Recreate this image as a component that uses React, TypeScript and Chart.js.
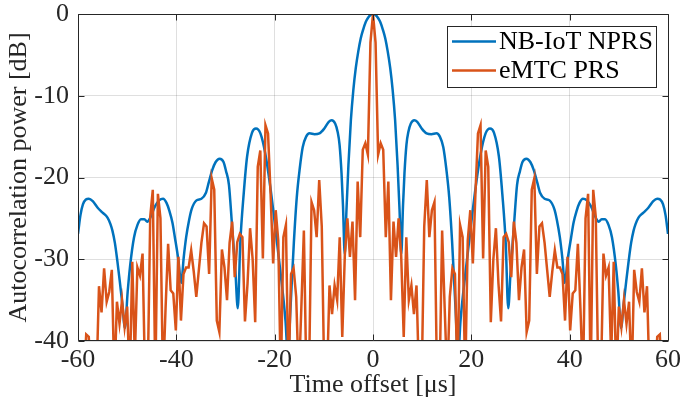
import React, { useEffect, useRef } from 'react';
import { Chart, registerables } from 'chart.js';

Chart.register(...registerables);

const SERIES_NAMES = ['NB-IoT NPRS', 'eMTC PRS'];
const SERIES_COLORS = ['#0072BD', '#D95319'];
const X_TITLE = 'Time offset [μs]';
const Y_TITLE = 'Autocorrelation power [dB]';
const X_TICKS = [-60, -40, -20, 0, 20, 40, 60];
const Y_TICKS = [-40, -30, -20, -10, 0];

// NB-IoT NPRS autocorrelation (dB)
const nbIotX = [
  -60, -59.5, -59, -58.4, -57.8, -57, -56, -55, -54, -53.4, -53, -52.5, -52, -51.5, -51, -50.45, -49.9, -49.4, -48.6, -47.9,
  -47.2, -46.5, -45.9, -45.2, -44.4, -43.5, -42.7, -42, -41.4, -40.8, -40.3, -39.6, -39, -38.5, -38, -37.4, -36.9, -35.9, -34.9, -34,
  -33.4, -32.7, -32, -31.2, -30.4, -29.9, -29.3, -28.7, -28, -27.5, -27, -26.3, -25.6, -24.6, -23.8, -22.9, -21.9, -20.9, -19.9, -18.8,
  -17.8, -17.3, -16.8, -16.1, -15.5, -14.9, -14.3, -13.6, -12.9, -11.9, -10.9, -9.9, -9, -8.4, -7.7, -7.2, -6.8, -6.4, -6.1, -5.75,
  -5.4, -5, -4.5, -4, -3.5, -3, -2.5, -2, -1.5, -1, -0.5, 0,
  0.5, 1, 1.5, 2, 2.5, 3, 3.5, 4, 4.5, 5, 5.4, 5.75, 6.1, 6.4, 6.8, 7.2, 7.7, 8.4, 9, 9.9,
  10.9, 11.9, 12.9, 13.6, 14.3, 14.9, 15.5, 16.1, 16.8, 17.3, 17.8, 18.8, 19.9, 20.9, 21.9, 22.9, 23.8, 24.6, 25.6, 26.3,
  27, 27.5, 28, 28.7, 29.3, 29.9, 30.4, 31.2, 32, 32.7, 33.4, 34, 34.9, 35.9, 36.9, 37.4, 38, 38.5, 39, 39.6,
  40.3, 40.8, 41.4, 42, 42.7, 43.5, 44.4, 45.2, 45.9, 46.5, 47.2, 47.9, 48.6, 49.4, 49.9, 50.45, 51, 51.5, 52, 52.5,
  53, 53.4, 54, 55, 56, 57, 57.8, 58.4, 59, 59.5, 60,
];
const nbIotY = [
  -26.9, -24.6, -23.3, -22.7, -22.6, -22.9, -23.7, -24.3, -24.9, -25.7, -26.5, -28.0, -30.2, -32.7, -35.4, -38.4, -34.0, -30.8, -27.3, -25.8,
  -25.1, -25.1, -25.4, -24.8, -23.6, -22.8, -22.6, -23.1, -24.1, -25.5, -27.3, -30.0, -32.9, -29.8, -27.3, -25.2, -23.9, -22.8, -22.6, -21.9,
  -20.6, -19.1, -18.1, -17.7, -18.1, -19.2, -20.9, -25.6, -31.3, -36.0, -28.1, -22.0, -17.4, -14.5, -14.0, -14.6, -17.1, -21.1, -26.0, -31.7,
  -37.5, -42.0, -36.2, -28.0, -22.4, -18.9, -16.3, -15.0, -14.6, -14.7, -14.6, -14.0, -13.2, -13.0, -13.4, -14.4, -16.0, -19.5, -23.5, -29.4,
  -24.0, -18.5, -13.0, -9.3, -6.6, -4.6, -3.0, -1.9, -1.0, -0.45, -0.12, 0,
  -0.12, -0.45, -1.0, -1.9, -3.0, -4.6, -6.6, -9.3, -13.0, -18.5, -24.0, -29.4, -23.5, -19.5, -16.0, -14.4, -13.4, -13.0, -13.2, -14.0,
  -14.6, -14.7, -14.6, -15.0, -16.3, -18.9, -22.4, -28.0, -36.2, -42.0, -37.5, -31.7, -26.0, -21.1, -17.1, -14.6, -14.0, -14.5, -17.4, -22.0,
  -28.1, -36.0, -31.3, -25.6, -20.9, -19.2, -18.1, -17.7, -18.1, -19.1, -20.6, -21.9, -22.6, -22.8, -23.9, -25.2, -27.3, -29.8, -32.9, -30.0,
  -27.3, -25.5, -24.1, -23.1, -22.6, -22.8, -23.6, -24.8, -25.4, -25.1, -25.1, -25.8, -27.3, -30.8, -34.0, -38.4, -35.4, -32.7, -30.2, -28.0,
  -26.5, -25.7, -24.9, -24.3, -23.7, -22.9, -22.6, -22.7, -23.3, -24.6, -26.9,
];

// eMTC PRS autocorrelation (dB) sample times and values
const emtcX = [
  -59.90, -59.37, -58.85, -58.33, -57.81, -57.29, -56.77, -56.25, -55.73, -55.21, -54.69, -54.17, -53.65, -53.12, -52.60, -52.08, -51.56, -51.04, -50.52, -50.00,
  -49.48, -48.96, -48.44, -47.92, -47.40, -46.87, -46.35, -45.83, -45.31, -44.79, -44.27, -43.75, -43.23, -42.71, -42.19, -41.67, -41.15, -40.62, -40.10, -39.58,
  -39.06, -38.54, -38.02, -37.50, -36.98, -36.46, -35.94, -35.42, -34.90, -34.37, -33.85, -33.33, -32.81, -32.29, -31.77, -31.25, -30.73, -30.21, -29.69, -29.17,
  -28.65, -28.12, -27.60, -27.08, -26.56, -26.04, -25.52, -25.00, -24.48, -23.96, -23.44, -22.92, -22.40, -21.87, -21.35, -20.83, -20.31, -19.79, -19.27, -18.75,
  -18.23, -17.71, -17.19, -16.67, -16.15, -15.62, -15.10, -14.58, -14.06, -13.54, -13.02, -12.50, -11.98, -11.46, -10.94, -10.42, -9.90, -9.37, -8.85, -8.33,
  -7.81, -7.29, -6.77, -6.25, -5.73, -5.21, -4.69, -4.17, -3.65, -3.12, -2.60, -2.08, -1.56, -1.04, -0.52,
  0,
  0.52, 1.04, 1.56, 2.08, 2.60, 3.12, 3.65, 4.17, 4.69, 5.21, 5.73, 6.25, 6.77, 7.29, 7.81, 8.33, 8.85, 9.37, 9.90, 10.42,
  10.94, 11.46, 11.98, 12.50, 13.02, 13.54, 14.06, 14.58, 15.10, 15.62, 16.15, 16.67, 17.19, 17.71, 18.23, 18.75, 19.27, 19.79, 20.31, 20.83,
  21.35, 21.87, 22.40, 22.92, 23.44, 23.96, 24.48, 25.00, 25.52, 26.04, 26.56, 27.08, 27.60, 28.12, 28.65, 29.17, 29.69, 30.21, 30.73, 31.25,
  31.77, 32.29, 32.81, 33.33, 33.85, 34.37, 34.90, 35.42, 35.94, 36.46, 36.98, 37.50, 38.02, 38.54, 39.06, 39.58, 40.10, 40.62, 41.15, 41.67,
  42.19, 42.71, 43.23, 43.75, 44.27, 44.79, 45.31, 45.83, 46.35, 46.87, 47.40, 47.92, 48.44, 48.96, 49.48, 50.00, 50.52, 51.04, 51.56, 52.08,
  52.60, 53.12, 53.65, 54.17, 54.69, 55.21, 55.73, 56.25, 56.77, 57.29, 57.81, 58.33, 58.85, 59.37, 59.90,
];
const emtcY = [
  -50, -50, -45, -39.2, -39.5,
  -45, -50, -45, -33.3, -36.5, -31.1, -35.2, -34.0, -31.3, -45,
  -35.2, -37.9, -35.0, -38.3, -35.8, -45, -30.3, -42, -31.0, -32.0,
  -29.3, -45, -45, -24.8, -21.5, -45, -22.0, -25.0, -45, -36.0,
  -28.1, -33.8, -34.2, -38.7, -29.7, -37.5, -31.8, -31.0, -31.0, -28.9,
  -31.5, -34.6, -31.3, -28.0, -25.6, -26.0, -31.8, -20.1, -21.5, -37.5,
  -38.9, -28.8, -31.0, -35.0, -28.0, -25.4, -32.2, -27.9, -26.9, -27.3,
  -37.6, -33.0, -26.2, -30.0, -37.7, -18.7, -16.7, -29.9, -13.6, -14.6,
  -22.0, -30.5, -24.0, -27.7, -45, -27.3, -25.8, -45, -31.8, -31.1,
  -34.6, -45, -36.0, -26.5, -45, -45, -23.0, -24.0, -27.3, -20.3,
  -26.0, -45, -45, -33.2, -36.7, -33.2, -35.0, -27.3, -39.5, -29.5,
  -25.0, -29.7, -25.4, -35.0, -20.5, -27.3, -16.6, -15.8, -17.2, -3.5,
  0,
  -3.5, -17.2, -15.8, -16.6, -27.3, -20.5, -35.0, -25.4, -29.7, -25.0,
  -29.5, -39.5, -27.3, -35.0, -33.2, -36.7, -33.2, -45, -45, -26.0,
  -20.3, -27.3, -24.0, -23.0, -45, -45, -26.5, -36.0, -45, -34.6,
  -31.1, -31.8, -45, -25.8, -27.3, -45, -27.7, -24.0, -30.5, -22.0,
  -14.6, -13.6, -29.9, -16.7, -18.7, -37.7, -30.0, -26.2, -33.0, -37.6,
  -27.3, -26.9, -27.9, -32.2, -25.4, -28.0, -35.0, -31.0, -28.8, -38.9,
  -37.5, -21.5, -20.1, -31.8, -26.0, -25.6, -28.0, -31.3, -34.6, -31.5,
  -28.9, -31.0, -31.0, -31.8, -37.5, -29.7, -38.7, -34.2, -33.8, -28.1,
  -36.0, -45, -25.0, -22.0, -45, -21.5, -24.8, -45, -45, -29.3,
  -32.0, -31.0, -42, -30.3, -45, -35.8, -38.3, -35.0, -37.9, -35.2,
  -45, -31.3, -34.0, -35.2, -31.1, -36.5, -33.3, -45, -50, -45,
  -39.5, -39.2, -45, -50, -50,
];

const FONT_FAMILY = "'Liberation Serif', 'Times New Roman', serif";
const AXIS_COLOR = '#262626';
const GRID_COLOR = 'rgba(38,38,38,0.15)';

const frameAndLegend = {
  id: 'frameAndLegend',
  afterDatasetsDraw(chart: any) {
    const { ctx, chartArea: a, scales } = chart;
    const L = Math.floor(a.left) + 0.5;
    const R = Math.floor(a.right) + 0.5;
    const T = Math.floor(a.top) + 0.5;
    const B = Math.floor(a.bottom) - 0.5;
    ctx.save();
    ctx.strokeStyle = AXIS_COLOR;
    ctx.lineWidth = 1;
    ctx.beginPath();
    ctx.rect(L, T, R - L, B - T);
    const tl = 6;
    X_TICKS.forEach((v) => {
      const px = Math.round(scales.x.getPixelForValue(v)) + 0.5;
      ctx.moveTo(px, B); ctx.lineTo(px, B - tl);
      ctx.moveTo(px, T); ctx.lineTo(px, T + tl);
    });
    Y_TICKS.forEach((v) => {
      const py = Math.round(scales.y.getPixelForValue(v)) + 0.5;
      ctx.moveTo(L, py); ctx.lineTo(L + tl, py);
      ctx.moveTo(R, py); ctx.lineTo(R - tl, py);
    });
    ctx.stroke();

    // legend box (inside the plot, top right)
    const bx = 447.5, by = 26.5, bw = 209, bh = 61;
    ctx.fillStyle = '#ffffff';
    ctx.fillRect(bx, by, bw, bh);
    ctx.strokeRect(bx, by, bw, bh);
    ctx.font = `26px ${FONT_FAMILY}`;
    ctx.textBaseline = 'middle';
    ctx.textAlign = 'left';
    SERIES_NAMES.forEach((name, i) => {
      const y = 41.5 + i * 29;
      ctx.strokeStyle = SERIES_COLORS[i];
      ctx.lineWidth = 2.5;
      ctx.beginPath();
      ctx.moveTo(452, y);
      ctx.lineTo(496, y);
      ctx.stroke();
      ctx.fillStyle = '#000000';
      ctx.fillText(name, 499, y + 1);
    });
    ctx.restore();
  },
};

export default function App() {
  const ref = useRef<HTMLCanvasElement>(null);

  useEffect(() => {
    const canvas = ref.current;
    if (!canvas) return;
    const blue = nbIotX.map((x, i) => ({ x, y: nbIotY[i] }));
    const orange = emtcX.map((x, i) => ({ x, y: emtcY[i] }));
    const chart = new Chart(canvas, {
      type: 'line',
      data: {
        datasets: [
          {
            label: SERIES_NAMES[0],
            data: blue,
            borderColor: SERIES_COLORS[0],
            borderWidth: 2.5,
            pointRadius: 0,
            cubicInterpolationMode: 'monotone',
            order: 1,
          },
          {
            label: SERIES_NAMES[1],
            data: orange,
            borderColor: SERIES_COLORS[1],
            borderWidth: 2.5,
            pointRadius: 0,
            tension: 0,
            order: 0,
          },
        ],
      },
      options: {
        animation: false,
        responsive: false,
        devicePixelRatio: 1,
        layout: { padding: { top: 14, right: 13, left: 0, bottom: 0 }, autoPadding: false },
        plugins: { legend: { display: false }, tooltip: { enabled: false } },
        font: { family: FONT_FAMILY, size: 26 },
        scales: {
          x: {
            type: 'linear',
            min: -60,
            max: 60,
            afterBuildTicks: (s: any) => { s.ticks = X_TICKS.map((v) => ({ value: v })); },
            afterFit: (s: any) => { s.height = 68; s.paddingLeft = 0; s.paddingRight = 0; },
            grid: { color: GRID_COLOR, drawTicks: false, lineWidth: 1 },
            border: { display: false },
            ticks: { color: AXIS_COLOR, font: { family: FONT_FAMILY, size: 26 }, padding: 4, maxRotation: 0, autoSkip: false },
            title: { display: true, text: X_TITLE, color: AXIS_COLOR, font: { family: FONT_FAMILY, size: 26 }, padding: { top: 0, bottom: 8 } },
          },
          y: {
            type: 'linear',
            min: -40,
            max: 0,
            afterBuildTicks: (s: any) => { s.ticks = Y_TICKS.map((v) => ({ value: v })); },
            afterFit: (s: any) => { s.width = 78; s.paddingTop = 0; s.paddingBottom = 0; },
            grid: { color: GRID_COLOR, drawTicks: false, lineWidth: 1 },
            border: { display: false },
            ticks: { color: AXIS_COLOR, font: { family: FONT_FAMILY, size: 26 }, padding: 9 },
            title: { display: true, text: Y_TITLE, color: AXIS_COLOR, font: { family: FONT_FAMILY, size: 26 }, padding: { top: 4, bottom: 0 } },
          },
        },
      } as any,
      plugins: [frameAndLegend],
    });
    return () => chart.destroy();
  }, []);

  return (
    <div style={{ position: 'fixed', left: 0, top: 0, width: 681, height: 409, background: '#ffffff' }}>
      <canvas ref={ref} width={681} height={409} style={{ display: 'block' }} />
    </div>
  );
}
